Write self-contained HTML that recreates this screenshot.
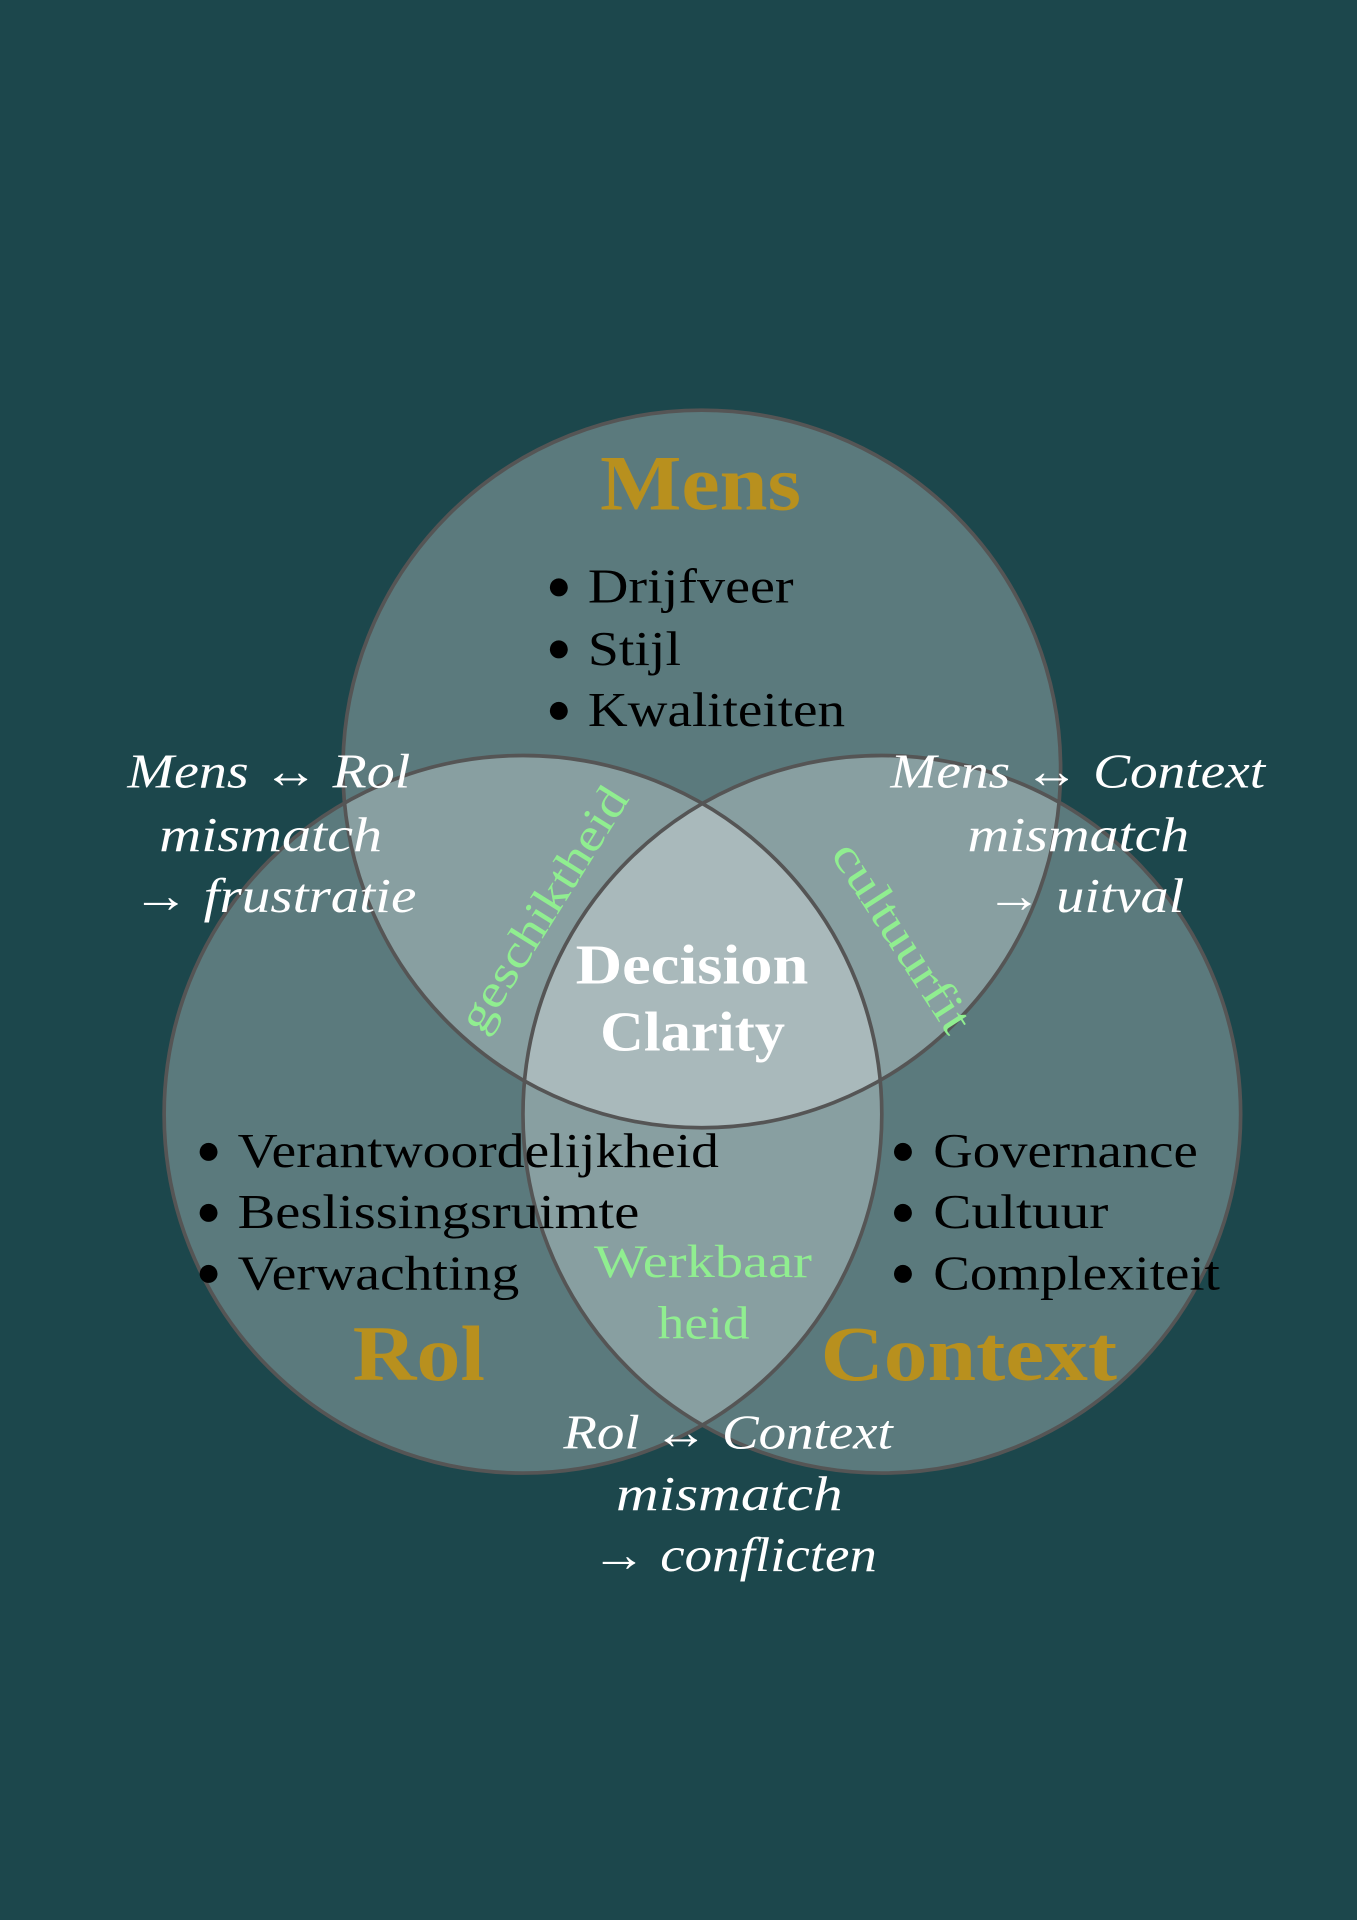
<!DOCTYPE html>
<html><head><meta charset="utf-8"><style>
html,body{margin:0;padding:0;background:#1c474c;}
svg{display:block}
text{font-family:"Liberation Serif","DejaVu Serif",serif;}
</style></head><body>
<svg width="1357" height="1920" viewBox="0 0 1108 1568" preserveAspectRatio="none" xmlns="http://www.w3.org/2000/svg">
<rect width="1108" height="1568" fill="#1c474c"/>
<g fill="#ffffff" fill-opacity="0.28">
<circle cx="573" cy="628" r="293"/>
<circle cx="427" cy="910" r="293"/>
<circle cx="720" cy="910" r="293"/>
</g>
<g fill="none" stroke="#555" stroke-width="3">
<circle cx="573" cy="628" r="293"/>
<circle cx="427" cy="910" r="293"/>
<circle cx="720" cy="910" r="293"/>
</g>
<g fill="#b8901e" font-weight="bold" font-size="64">
<text x="490" y="416" textLength="164" lengthAdjust="spacingAndGlyphs">Mens</text>
<text x="288" y="1127" textLength="108" lengthAdjust="spacingAndGlyphs">Rol</text>
<text x="670" y="1127" textLength="242" lengthAdjust="spacingAndGlyphs">Context</text>
</g>
<g fill="#000" font-size="40">
<g font-size="34"><text x="446" y="489" textLength="16">●</text><text x="446" y="540">●</text><text x="446" y="590">●</text>
<text x="160" y="950">●</text><text x="160" y="1000">●</text><text x="160" y="1050">●</text>
<text x="727" y="950">●</text><text x="727" y="1000">●</text><text x="727" y="1050">●</text></g>
<text x="480" y="492" textLength="168" lengthAdjust="spacingAndGlyphs">Drijfveer</text>
<text x="480" y="543" textLength="76" lengthAdjust="spacingAndGlyphs">Stijl</text>
<text x="480" y="593" textLength="210" lengthAdjust="spacingAndGlyphs">Kwaliteiten</text>
<text x="194" y="953" textLength="393" lengthAdjust="spacingAndGlyphs">Verantwoordelijkheid</text>
<text x="194" y="1003" textLength="328" lengthAdjust="spacingAndGlyphs">Beslissingsruimte</text>
<text x="194" y="1053" textLength="230" lengthAdjust="spacingAndGlyphs">Verwachting</text>
<text x="762" y="953" textLength="216" lengthAdjust="spacingAndGlyphs">Governance</text>
<text x="762" y="1003" textLength="143" lengthAdjust="spacingAndGlyphs">Cultuur</text>
<text x="762" y="1053" textLength="234" lengthAdjust="spacingAndGlyphs">Complexiteit</text>
</g>
<g fill="#fff" font-style="italic" font-size="40">
<text x="104" y="643" textLength="231" lengthAdjust="spacingAndGlyphs">Mens ↔ Rol</text>
<text x="130" y="695" textLength="182" lengthAdjust="spacingAndGlyphs">mismatch</text>
<text x="108" y="745" textLength="232" lengthAdjust="spacingAndGlyphs">→ frustratie</text>
<text x="727" y="643" textLength="306" lengthAdjust="spacingAndGlyphs">Mens ↔ Context</text>
<text x="790" y="695" textLength="181" lengthAdjust="spacingAndGlyphs">mismatch</text>
<text x="805" y="745" textLength="162" lengthAdjust="spacingAndGlyphs">→ uitval</text>
<text x="460" y="1183" textLength="269" lengthAdjust="spacingAndGlyphs">Rol ↔ Context</text>
<text x="503" y="1233" textLength="185" lengthAdjust="spacingAndGlyphs">mismatch</text>
<text x="483" y="1283" textLength="233" lengthAdjust="spacingAndGlyphs">→ conflicten</text>
</g>
<g fill="#fff" font-weight="bold" font-size="46">
<text x="470" y="803" textLength="190" lengthAdjust="spacingAndGlyphs">Decision</text>
<text x="490" y="858" textLength="151" lengthAdjust="spacingAndGlyphs">Clarity</text>
</g>
<g fill="#90ee90" font-size="38">
<text transform="translate(443,742) rotate(-58)" text-anchor="middle" textLength="228" lengthAdjust="spacingAndGlyphs" dy="13">geschiktheid</text>
<text transform="translate(737,765) rotate(57)" text-anchor="middle" textLength="178" lengthAdjust="spacingAndGlyphs" dy="13">cultuurfit</text>
<text x="485" y="1043" textLength="178" lengthAdjust="spacingAndGlyphs">Werkbaar</text>
<text x="537" y="1093" textLength="75" lengthAdjust="spacingAndGlyphs">heid</text>
</g>
</svg>
</body></html>
